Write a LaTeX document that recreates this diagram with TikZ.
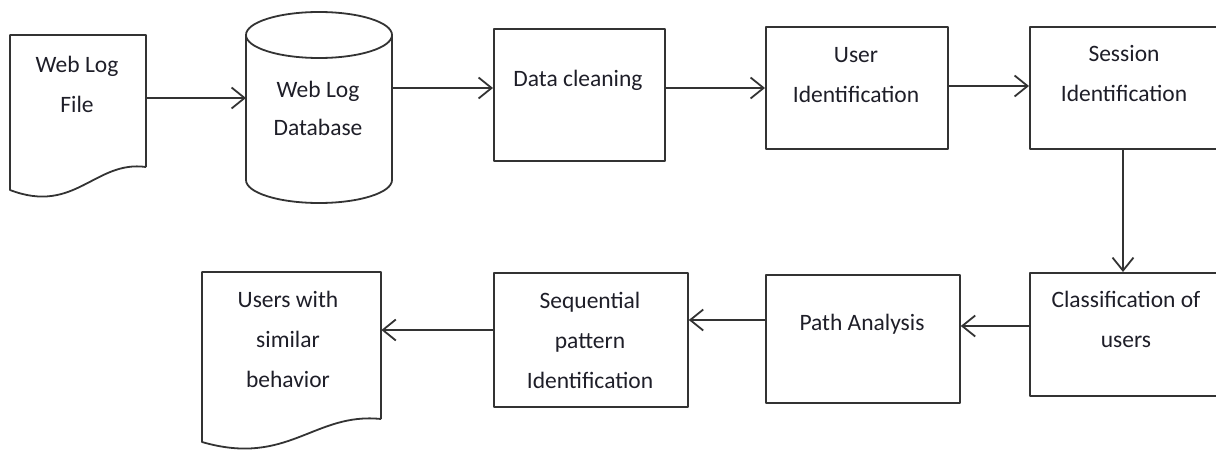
\documentclass[tikz,border=0pt]{standalone}
\usepackage{fontspec}
\setmainfont{Carlito}
\usetikzlibrary{arrows.meta,calc}
\definecolor{edge}{HTML}{333333}
\definecolor{ink}{HTML}{1E1E28}
% multi-line label whose base is the baseline of its first line
\newcommand{\lbl}[1]{\begin{tabular}[t]{@{}c@{}}#1\end{tabular}}
\begin{document}
\begin{tikzpicture}[x=1pt,y=-1pt,
  line join=round,
  shapeline/.style={draw=edge,line width=1.8pt},
  box/.style={shapeline,rectangle,inner sep=0pt,anchor=north west,fill=none},
  area/.style={rectangle,inner sep=0pt,anchor=north west},
  txt/.style={text=ink,anchor=base,inner sep=0pt,font=\fontsize{23.5}{40}\selectfont},
  arr/.style={draw=edge,line width=1.8pt,-{Straight Barb[length=13pt,width=21pt]}}]
\useasboundingbox (0,0) rectangle (1216,452);

% --- document: Web Log File
\node[area,minimum width=136pt,minimum height=132pt] (file) at (10,35) {};
\draw[shapeline] (146,167) -- (146,35) -- (10,35) -- (10,190)
  .. controls (75,215) and (95,160) .. (146,167);
\node[txt] (file-t) at (77,73) {\lbl{Web Log\\File}};

% --- cylinder: Web Log Database
\node[area,minimum width=146pt,minimum height=191pt] (db) at (246,12) {};
\draw[shapeline] (319,35) ellipse [x radius=73pt,y radius=23pt];
\draw[shapeline] (246,35) -- (246,180) arc[start angle=180,end angle=360,x radius=73pt,y radius=23pt] -- (392,35);
\node[txt,font=\fontsize{23.5}{38}\selectfont] (db-t) at (318,97) {\lbl{Web Log\\Database}};

% --- process boxes, top row
\node[box,minimum width=171pt,minimum height=132pt] (clean) at (493,28) {};
\node[txt] (clean-t) at (578,87) {\lbl{Data cleaning}};

\node[box,minimum width=182pt,minimum height=122pt] (user) at (765,26) {};
\node[txt] (user-t) at (856,63) {\lbl{User\\Identification}};

\node[box,minimum width=195pt,minimum height=122pt] (session) at (1029,26) {};
\node[txt] (session-t) at (1124,62) {\lbl{Session\\Identification}};

% --- process boxes, bottom row
\node[box,minimum width=195pt,minimum height=123pt] (class) at (1029,272) {};
\node[txt] (class-t) at (1126,307) {\lbl{Classification of\\users}};

\node[box,minimum width=194pt,minimum height=128pt] (path) at (765,274) {};
\node[txt] (path-t) at (862,330) {\lbl{Path Analysis}};

\node[box,minimum width=194pt,minimum height=134pt] (seq) at (493,272) {};
\node[txt] (seq-t) at (590,308) {\lbl{Sequential\\pattern\\Identification}};

% --- document: Users with similar behavior
\node[area,minimum width=179pt,minimum height=147pt] (users) at (202,272) {};
\draw[shapeline] (381,419) -- (381,272) -- (202,272) -- (202,442)
  .. controls (288,467) and (314,412) .. (381,419);
\node[txt] (users-t) at (288,307) {\lbl{Users with\\similar\\behavior}};

% --- connectors
\draw[arr] (file.east |- 0,98) -- (db.west |- 0,98);
\draw[arr] (db.east |- 0,88) -- (clean.west |- 0,88);
\draw[arr] (clean.east |- 0,88) -- (user.west |- 0,88);
\draw[arr] (user.east |- 0,86) -- (session.west |- 0,86);
\draw[arr] (session.south -| 1123,0) -- (class.north -| 1123,0);
\draw[arr] (class.west |- 0,326) -- (path.east |- 0,326);
\draw[arr] (path.west |- 0,320) -- (seq.east |- 0,320);
\draw[arr] (seq.west |- 0,330) -- (users.east |- 0,330);
\end{tikzpicture}
\end{document}
